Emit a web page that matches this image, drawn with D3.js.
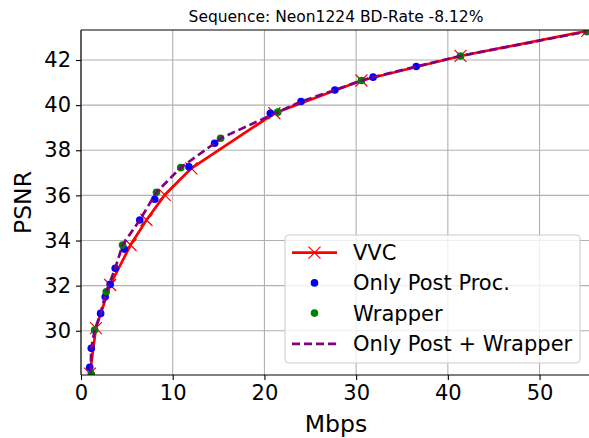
<!DOCTYPE html>
<html><head><meta charset="utf-8">
<script src="https://cdn.jsdelivr.net/npm/d3@7"></script>
<style>body{margin:0;background:#fff}svg{display:block}text{font-family:"DejaVu Sans",sans-serif}</style>
</head><body>
<svg id="c" width="589" height="438"></svg>
<script>
const titleText = "Sequence: Neon1224 BD-Rate -8.12%";
const xTicks = [0, 10, 20, 30, 40, 50];
const yTicks = [30, 32, 34, 36, 38, 40, 42];
const vvcRate = [0.98, 1.63, 3.18, 5.40, 7.14, 9.13, 12.03, 21.09, 30.58, 41.38, 55.2];
const vvcPsnr = [28.10, 30.12, 32.03, 33.80, 34.91, 36.02, 37.20, 39.64, 41.09, 42.18, 43.29];
const postRate = [0.95, 1.12, 2.14, 2.64, 3.18, 3.73, 4.71, 6.41, 8.04, 11.77, 14.57, 20.65, 23.99, 27.68, 31.85, 36.55];
const postPsnr = [28.38, 29.22, 30.77, 31.51, 32.06, 32.77, 33.62, 34.91, 35.83, 37.27, 38.31, 39.64, 40.16, 40.67, 41.24, 41.71];
const wrapRate = [1.12, 1.49, 2.75, 4.53, 8.23, 10.87, 15.22, 21.45, 30.58, 41.38, 55.14];
const wrapPsnr = [28.08, 30.03, 31.73, 33.80, 36.14, 37.23, 38.53, 39.69, 41.09, 42.18, 43.26];
const bothRate = [1.05, 1.12, 1.49, 2.14, 2.75, 3.73, 4.53, 6.41, 8.23, 10.87, 14.57, 15.22, 21.45, 23.99, 27.68, 30.58, 31.85, 36.55, 41.38, 55.14];
const bothPsnr = [28.10, 29.22, 30.03, 30.77, 31.73, 32.77, 33.80, 34.91, 36.14, 37.23, 38.31, 38.53, 39.69, 40.16, 40.67, 41.09, 41.24, 41.71, 42.18, 43.26];
const legendLabels = ["VVC", "Only Post Proc.", "Wrapper", "Only Post + Wrapper"];

const svg = d3.select("#c");
const L = 81, R = 590, T = 30, B = 375;
const x = d3.scaleLinear().domain([0, 55.5]).range([L, R]);
const y = d3.scaleLinear().domain([28.04, 43.33]).range([B, T]);

const defs = svg.append("defs");
defs.append("clipPath").attr("id","clip").append("rect").attr("x",L).attr("y",T).attr("width",R-L).attr("height",B-T);

// grid
const g = svg.append("g");
g.selectAll(".gx").data(xTicks).join("line").attr("x1",d=>x(d)).attr("x2",d=>x(d)).attr("y1",T).attr("y2",B).attr("stroke","#b0b0b0").attr("stroke-width",1.1);
g.selectAll(".gy").data(yTicks).join("line").attr("x1",L).attr("x2",R+5).attr("y1",d=>y(d)).attr("y2",d=>y(d)).attr("stroke","#b0b0b0").attr("stroke-width",1.1);

// axes
const xAxis = d3.axisBottom(x).tickValues(xTicks).tickSize(5).tickPadding(5).tickFormat(d3.format("d"));
const yAxis = d3.axisLeft(y).tickValues(yTicks).tickSize(5).tickPadding(5).tickFormat(d3.format("d"));
const ax = svg.append("g").attr("transform",`translate(0,${B})`).call(xAxis);
const ay = svg.append("g").attr("transform",`translate(${L},0)`).call(yAxis);
[ax, ay].forEach(a=>{
  a.select(".domain").remove();
  a.selectAll("line").attr("stroke","#000").attr("stroke-width",1.1);
  a.selectAll("text").attr("fill","#000").style("font-size","21px").style("font-family","DejaVu Sans");
});

// data
const pts = (xs, ys) => xs.map((v,i)=>[v, ys[i]]);
const vvc = pts(vvcRate, vvcPsnr), post = pts(postRate, postPsnr), wrap = pts(wrapRate, wrapPsnr), both = pts(bothRate, bothPsnr);
const line = d3.line().x(d=>x(d[0])).y(d=>y(d[1]));
const plot = svg.append("g").attr("clip-path","url(#clip)");
plot.append("path").attr("d",line(vvc)).attr("fill","none").attr("stroke","#ff0000").attr("stroke-width",2.7);
const cross = (sel, s) => sel.append("path").attr("d",`M${-s},${-s}L${s},${s}M${-s},${s}L${s},${-s}`).attr("stroke","#ff0000").attr("stroke-width",1.2).attr("fill","none");
vvc.forEach(d=>{ cross(plot.append("g").attr("transform",`translate(${x(d[0])},${y(d[1])})`), 6); });
plot.selectAll(".pb").data(post).join("circle").attr("cx",d=>x(d[0])).attr("cy",d=>y(d[1])).attr("r",3.8).attr("fill","#0000ff");
plot.selectAll(".pg").data(wrap).join("circle").attr("cx",d=>x(d[0])).attr("cy",d=>y(d[1])).attr("r",3.8).attr("fill","#008000");
plot.append("path").attr("d",line(both)).attr("fill","none").attr("stroke","#800080").attr("stroke-width",2.7).attr("stroke-dasharray","8,4");

// spines
svg.append("line").attr("x1",L).attr("x2",L).attr("y1",T).attr("y2",B).attr("stroke","#000").attr("stroke-width",1.1);
svg.append("line").attr("x1",L).attr("x2",R+5).attr("y1",B).attr("y2",B).attr("stroke","#000").attr("stroke-width",1.1);
svg.append("line").attr("x1",L).attr("x2",R+5).attr("y1",T).attr("y2",T).attr("stroke","#000").attr("stroke-width",1.1);

// labels
svg.append("text").attr("x",(L+591)/2).attr("y",22).attr("text-anchor","middle").style("font-size","15.5px").text(titleText);
svg.append("text").attr("x",(L+591)/2).attr("y",432).attr("text-anchor","middle").style("font-size","23.5px").text("Mbps");
svg.append("text").attr("transform",`translate(31,${(T+B)/2}) rotate(-90)`).attr("text-anchor","middle").style("font-size","23.5px").text("PSNR");

// legend
const lg = svg.append("g");
lg.append("rect").attr("x",285).attr("y",235).attr("width",295).attr("height",128).attr("rx",4).attr("fill","#fff").attr("fill-opacity",0.8).attr("stroke","#cccccc").attr("stroke-width",1.1);
const rowY = [252.7, 282.9, 313.1, 343.8];
legendLabels.forEach((t,i)=>{
  const yy = rowY[i];
  if(i===0){
    lg.append("line").attr("x1",292).attr("x2",337).attr("y1",yy).attr("y2",yy).attr("stroke","#ff0000").attr("stroke-width",2.7);
    cross(lg.append("g").attr("transform",`translate(314.5,${yy})`), 6);
  } else if(i===1){
    lg.append("circle").attr("cx",314.5).attr("cy",yy).attr("r",3.8).attr("fill","#0000ff");
  } else if(i===2){
    lg.append("circle").attr("cx",314.5).attr("cy",yy).attr("r",3.8).attr("fill","#008000");
  } else {
    lg.append("line").attr("x1",292).attr("x2",337).attr("y1",yy).attr("y2",yy).attr("stroke","#800080").attr("stroke-width",2.7).attr("stroke-dasharray","8,4");
  }
  lg.append("text").attr("x",353).attr("y",yy+7.5).style("font-size","21px").text(t);
});
</script>
</body></html>
